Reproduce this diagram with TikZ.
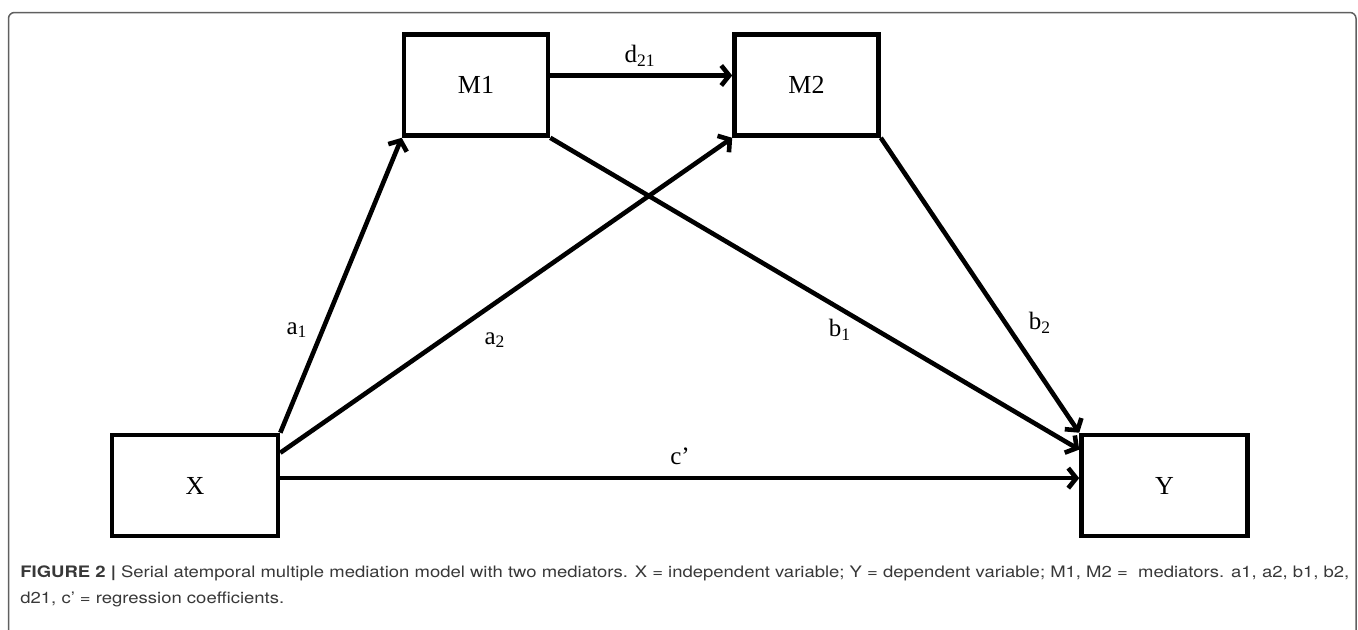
\documentclass[tikz,border=0pt]{standalone}
\usepackage{fontspec}
\setmainfont{Liberation Serif}
\newfontfamily\capfont[FakeStretch=1.17]{TeX Gyre Heros}
\usetikzlibrary{arrows.meta,calc}
\begin{document}
\begin{tikzpicture}[x=0.5pt,y=-0.5pt,
  varbox/.style={draw=black,line width=2.3pt,rectangle,inner sep=0pt,
     minimum height=50.5pt,font=\fontsize{13}{15}\selectfont},
  conn/.style={line width=2.3pt,-{Straight Barb[length=4pt,width=10pt,line width=2.3pt]}},
  lbl/.style={font=\fontsize{12.5}{14}\selectfont,inner sep=0pt},
  captext/.style={anchor=base west,inner sep=0pt,text=black!78,font=\capfont\fontsize{7.9}{13}\selectfont}]
\useasboundingbox (0,0) rectangle (1358,629);
\draw[gray!75!black,line width=0.75pt,rounded corners=3pt] (8.5,12.5) rectangle (1356,660);
\node[varbox,minimum width=72pt] (M1) at (476,85) {M1};
\node[varbox,minimum width=72pt] (M2) at (806.5,85) {M2};
\node[varbox,minimum width=83pt] (X) at (195,485.5) {X};
\node[varbox,minimum width=83pt] (Y) at (1164.5,485.5) {Y};
\coordinate (dS) at ($(M1.north east)!0.41!(M1.south east)$);
\coordinate (cS) at ($(X.north east)!0.43!(X.south east)$);
\coordinate (aS) at ($(X.north east)!0.19!(X.south east)$);
\coordinate (bT) at ($(Y.north west)!0.16!(Y.south west)$);
\draw[conn] (dS) -- (dS -| M2.west);
\draw[conn] (X.north east) -- (M1.south west);
\draw[conn] (aS) -- (M2.south west);
\draw[conn] (cS) -- (cS -| Y.west);
\draw[conn] (M1.south east) -- (bT);
\draw[conn] (M2.south east) -- (Y.north west);
\node[lbl] (ld) at (640,56) {d\textsubscript{21}};
\node[lbl] (la1) at (297,330) {a\textsubscript{1}};
\node[lbl] (la2) at (495,340) {a\textsubscript{2}};
\node[lbl] (lb1) at (840,330) {b\textsubscript{1}};
\node[lbl] (lb2) at (1040,323) {b\textsubscript{2}};
\node[lbl] (lc) at (680,456) {c’};
\node[captext] (cap1) at (20,577)
 {\textbf{FIGURE 2 |} Serial atemporal multiple mediation model with two mediators. X = independent variable; Y = dependent variable; M1, M2 = \ mediators. a1, a2, b1, b2,};
\node[captext] (cap2) at (20,603) {d21, c’ = regression coefficients.};
\end{tikzpicture}
\end{document}
